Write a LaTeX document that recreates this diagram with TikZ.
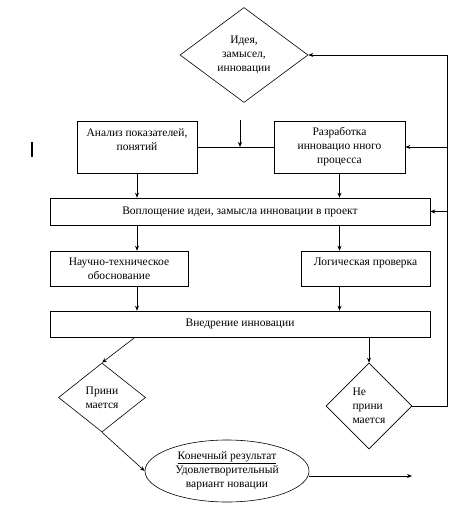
\documentclass[tikz,border=0pt]{standalone}
\usepackage{fontspec}
\setmainfont{Liberation Serif}
\usetikzlibrary{arrows.meta, shapes.geometric, calc}

\begin{document}
\begin{tikzpicture}[
  x=1pt, y=-1pt,
  font=\fontsize{11.5}{14}\selectfont,
  line width=0.6pt,
  box/.style={draw, align=center, inner sep=1pt},
  decision/.style={draw, diamond, align=center, inner sep=0pt},
  arrow/.style={-{Stealth[length=5pt, width=4pt]}}
]
  \useasboundingbox (0,0) rectangle (473,524);

  \node[decision, minimum width=128pt, minimum height=95pt] (idea) at (244,55) {Идея,\\замысел,\\инновации};
  \node[box, minimum width=120pt, minimum height=52pt] (analiz) at (137,147) {Анализ показателей,\\понятий\\\mbox{}};
  \node[box, minimum width=131pt, minimum height=52pt] (razrab) at (339.5,147) {Разработка\\инновацио нного\\процесса};
  \node[box, minimum width=380pt, minimum height=27pt] (vopl) at (240,211.5) {Воплощение идеи, замысла инновации в проект};
  \node[box, minimum width=138pt, minimum height=35pt] (nauch) at (119,268.5) {Научно-техническое\\обоснование};
  \node[box, minimum width=129pt, minimum height=35pt] (logic) at (365.5,268.5) {Логическая проверка\\\mbox{}};
  \node[box, minimum width=380pt, minimum height=26pt] (vnedr) at (240,324) {Внедрение инновации};
  \node[decision, minimum width=87pt, minimum height=69pt] (prin) at (102,397.5) {Прини\\мается};
  \node[decision, minimum width=86pt, minimum height=86pt, align=left] (neprin) at (369,406) {Не\\прини\\мается};
  \node[draw, ellipse, align=center, inner sep=0pt, minimum width=164pt, minimum height=62pt] (result) at (227,471)
    {\underline{Конечный результат}\\Удовлетворительный\\вариант новации};

  \coordinate (in) at (240,120);
  \coordinate (fb) at (447,55);
  \coordinate (out) at (412,476);

  % stray mark
  \draw[line width=1.6pt] (32,142) -- (32,157);

  \draw (analiz.east) -- (razrab.west);
  \draw[arrow] (in) -- (in |- analiz.east);
  \draw[arrow] (analiz.south) -- (analiz.south |- vopl.north);
  \draw[arrow] (razrab.south) -- (razrab.south |- vopl.north);
  \draw[arrow] (vopl.south -| analiz.south) -- (analiz.south |- nauch.north);
  \draw[arrow] (vopl.south -| razrab.south) -- (razrab.south |- logic.north);
  \draw[arrow] (nauch.south -| analiz.south) -- (analiz.south |- vnedr.north);
  \draw[arrow] (logic.south -| razrab.south) -- (razrab.south |- vnedr.north);
  \draw[arrow] (vnedr.south -| 135,0) -- (prin.north);
  \draw[arrow] (vnedr.south -| neprin.north) -- (neprin.north);
  \draw[arrow] (prin.south) -- (result.west);
  \draw[arrow] (result.east |- out) -- (out);

  % feedback loop
  \draw[arrow] (neprin.east) -| (fb) -- (idea.east);
  \draw[arrow] (fb |- razrab.east) -- (razrab.east);
  \draw[arrow] (fb |- vopl.east) -- (vopl.east);
\end{tikzpicture}
\end{document}
